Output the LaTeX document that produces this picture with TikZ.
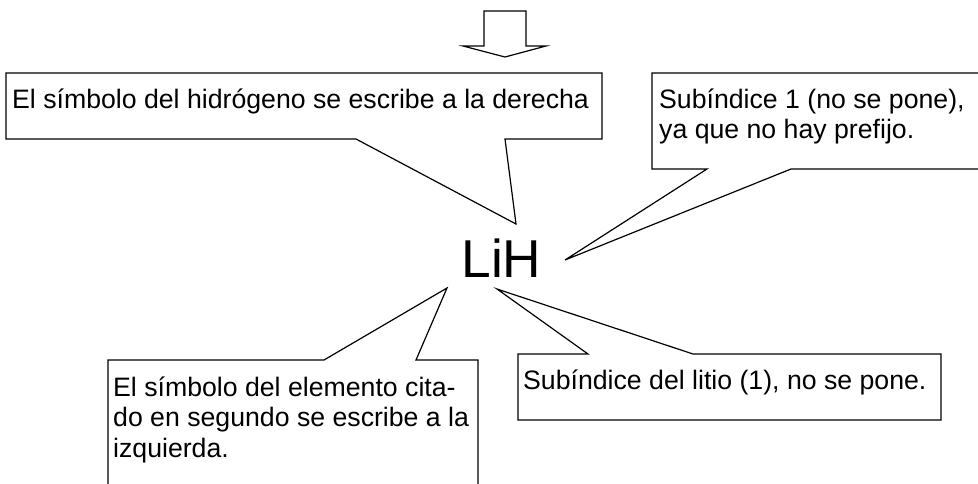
\documentclass[tikz,border=0pt]{standalone}
\usepackage{fontspec}
\setmainfont{Liberation Sans}
\begin{document}
\begin{tikzpicture}[x=1pt,y=-1pt,
  outline/.style={draw=black,line width=1.2pt,line join=miter,fill=white},
  boxtext/.style={anchor=base west,inner sep=0pt,font=\fontsize{26.67}{30.67}\selectfont},
  formula/.style={anchor=base,inner sep=0pt,font=\fontsize{53.3}{60}\selectfont}]
\useasboundingbox (0,0) rectangle (978,483);
\fill[white] (0,0) rectangle (978,483);
\clip (0,0) rectangle (978,483);
% block arrow
\draw[outline] (484,11) -- (526,11) -- (526,46) -- (546,46) -- (505,57) -- (463,46) -- (484,46) -- cycle;
% callout 1
\draw[outline] (6,73) -- (602,73) -- (602,139) -- (505,139) -- (516,224) -- (356,139) -- (6,139) -- cycle;
\node[boxtext] (t1) at (12,108) {El símbolo del hidrógeno se escribe a la derecha};
% callout 2
\draw[outline] (652,73) -- (995,73) -- (995,169) -- (791,169) -- (565,260) -- (707,169) -- (652,169) -- cycle;
\node[boxtext] (t2) at (659,108) {\begin{tabular}[t]{@{}l@{}}Subíndice 1 (no se pone),\\ya que no hay prefijo.\end{tabular}};
% callout 3
\draw[outline] (108,360) -- (324,360) -- (447,288) -- (416,360) -- (478,360) -- (478,500) -- (108,500) -- cycle;
\node[boxtext] (t3) at (113,396) {\begin{tabular}[t]{@{}l@{}}El símbolo del elemento cita-\\do en segundo se escribe a la\\izquierda.\end{tabular}};
% callout 4
\draw[outline] (518,354) -- (588,354) -- (497,289) -- (693,354) -- (941,354) -- (941,420) -- (518,420) -- cycle;
\node[boxtext] (t4) at (523,389) {Subíndice del litio (1), no se pone.};
% formula
\node[formula] (lih) at (501.5,277) {LiH};
\end{tikzpicture}
\end{document}
